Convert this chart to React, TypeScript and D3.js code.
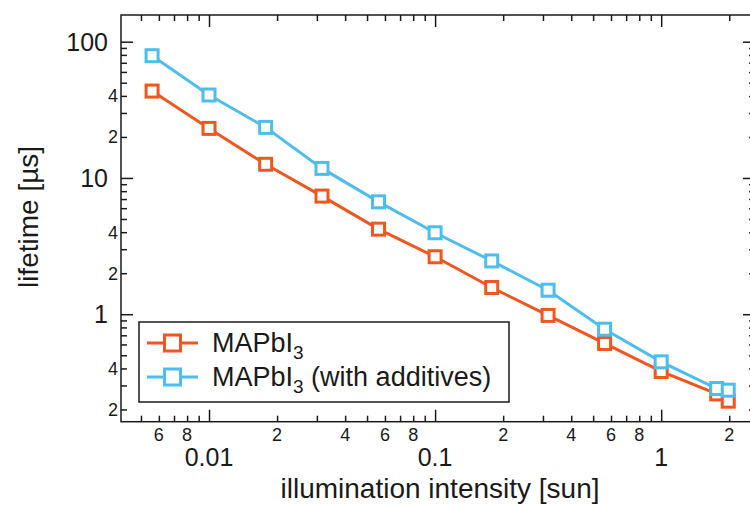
import * as d3 from "d3";
import { useEffect, useRef } from "react";

// illumination intensity [sun], shared by both series
const intensity = [0.0056, 0.01, 0.0178, 0.0316, 0.0562, 0.1, 0.178, 0.316, 0.562, 1, 1.76, 1.98];
// lifetime [µs]
const lifetimePlain = [43.4, 23.1, 12.6, 7.36, 4.21, 2.64, 1.57, 0.98, 0.61, 0.38, 0.26, 0.23];
const lifetimeAdditives = [78.9, 40.6, 23.5, 11.75, 6.68, 3.96, 2.46, 1.5, 0.776, 0.447, 0.285, 0.277];

const seriesSuffixes = ["", " (with additives)"];
const seriesColors = ["#f0561e", "#4dbdee"];

const xMajorTicks = [0.01, 0.1, 1];
const xMajorLabels = ["0.01", "0.1", "1"];
const xMinorTicks = [
  0.005, 0.006, 0.007, 0.008, 0.009,
  0.02, 0.03, 0.04, 0.05, 0.06, 0.07, 0.08, 0.09,
  0.2, 0.3, 0.4, 0.5, 0.6, 0.7, 0.8, 0.9, 2,
];
const xMinorLabelled = [0.006, 0.008, 0.02, 0.04, 0.06, 0.08, 0.2, 0.4, 0.6, 0.8, 2];

const yMajorTicks = [1, 10, 100];
const yMajorLabels = ["1", "10", "100"];
const yMinorTicks = [
  0.2, 0.3, 0.4, 0.5, 0.6, 0.7, 0.8, 0.9,
  2, 3, 4, 5, 6, 7, 8, 9,
  20, 30, 40, 50, 60, 70, 80, 90,
];
const yMinorLabelled = [0.2, 0.4, 2, 4, 20, 40];

const width = 750;
const height = 505;
const plot = { left: 121, top: 15, right: 755, bottom: 421.7 };
const font = "'Liberation Sans', Arial, Helvetica, sans-serif";

const firstDigit = (v: number) => String(Math.round(v / Math.pow(10, Math.floor(Math.log10(v) + 1e-9))));

export default function App() {
  const svgRef = useRef<SVGSVGElement | null>(null);

  useEffect(() => {
    const svg = d3.select(svgRef.current);
    svg.selectAll("*").remove();

    const x = d3.scaleLog().domain([0.00408, 2.6]).range([plot.left, plot.right]);
    const y = d3.scaleLog().domain([0.1626, 157]).range([plot.bottom, plot.top]);

    svg.append("rect").attr("width", width).attr("height", height).attr("fill", "#fff");

    const tickGroup = (transform: string, axis: any) => {
      const g = svg.append("g").attr("transform", transform).call(axis);
      g.select(".domain").remove();
      g.selectAll("text").remove();
      g.selectAll("line").attr("stroke", "#1a1a1a").attr("stroke-width", 1.5);
      return g;
    };

    const sides: [string, any][] = [
      [`translate(0,${plot.bottom})`, d3.axisBottom],
      [`translate(0,${plot.top})`, d3.axisTop],
    ];
    sides.forEach(([t, make]) => {
      tickGroup(t, make(x).tickValues(xMajorTicks).tickSize(-12).tickFormat(() => ""));
      tickGroup(t, make(x).tickValues(xMinorTicks).tickSize(-6).tickFormat(() => ""));
    });
    const ySides: [string, any][] = [
      [`translate(${plot.left},0)`, d3.axisLeft],
      [`translate(${plot.right},0)`, d3.axisRight],
    ];
    ySides.forEach(([t, make]) => {
      tickGroup(t, make(y).tickValues(yMajorTicks).tickSize(-12).tickFormat(() => ""));
      tickGroup(t, make(y).tickValues(yMinorTicks).tickSize(-6).tickFormat(() => ""));
    });

    svg
      .append("rect")
      .attr("x", plot.left)
      .attr("y", plot.top)
      .attr("width", plot.right - plot.left)
      .attr("height", plot.bottom - plot.top)
      .attr("fill", "none")
      .attr("stroke", "#1a1a1a")
      .attr("stroke-width", 1.5);

    // tick labels
    svg
      .append("g")
      .selectAll("text")
      .data(xMajorTicks)
      .join("text")
      .attr("x", (d) => x(d))
      .attr("y", 466)
      .attr("text-anchor", "middle")
      .style("font-family", font)
      .style("font-size", "25px")
      .attr("fill", "#1a1a1a")
      .text((d, i) => xMajorLabels[i]);

    svg
      .append("g")
      .selectAll("text")
      .data(xMinorLabelled)
      .join("text")
      .attr("x", (d) => x(d))
      .attr("y", 441)
      .attr("text-anchor", "middle")
      .style("font-family", font)
      .style("font-size", "18px")
      .attr("fill", "#1a1a1a")
      .text((d) => firstDigit(d));

    svg
      .append("g")
      .selectAll("text")
      .data(yMajorTicks)
      .join("text")
      .attr("x", 108)
      .attr("y", (d) => y(d))
      .attr("dy", "0.36em")
      .attr("text-anchor", "end")
      .style("font-family", font)
      .style("font-size", "25px")
      .attr("fill", "#1a1a1a")
      .text((d, i) => yMajorLabels[i]);

    svg
      .append("g")
      .selectAll("text")
      .data(yMinorLabelled)
      .join("text")
      .attr("x", 118)
      .attr("y", (d) => y(d))
      .attr("dy", "0.36em")
      .attr("text-anchor", "end")
      .style("font-family", font)
      .style("font-size", "18px")
      .attr("fill", "#1a1a1a")
      .text((d) => firstDigit(d));

    // axis titles
    svg
      .append("text")
      .attr("x", 440)
      .attr("y", 498)
      .attr("text-anchor", "middle")
      .style("font-family", font)
      .style("font-size", "28px")
      .attr("fill", "#1a1a1a")
      .text("illumination intensity [sun]");

    svg
      .append("text")
      .attr("transform", "translate(38,217) rotate(-90)")
      .attr("text-anchor", "middle")
      .style("font-family", font)
      .style("font-size", "28px")
      .attr("fill", "#1a1a1a")
      .text("lifetime [µs]");

    // series
    const seriesValues = [lifetimePlain, lifetimeAdditives];
    const line = d3
      .line<number>()
      .x((d, i) => x(intensity[i]))
      .y((d) => y(d));
    const markerSize = 12;

    seriesValues.forEach((values, s) => {
      svg
        .append("path")
        .datum(values)
        .attr("d", line)
        .attr("fill", "none")
        .attr("stroke", seriesColors[s])
        .attr("stroke-width", 3);

      svg
        .append("g")
        .selectAll("rect")
        .data(values)
        .join("rect")
        .attr("x", (d, i) => x(intensity[i]) - markerSize / 2)
        .attr("y", (d) => y(d) - markerSize / 2)
        .attr("width", markerSize)
        .attr("height", markerSize)
        .attr("fill", "#fff")
        .attr("stroke", seriesColors[s])
        .attr("stroke-width", 3);
    });

    // legend
    const legend = svg.append("g");
    legend
      .append("rect")
      .attr("x", 139)
      .attr("y", 322)
      .attr("width", 370)
      .attr("height", 80)
      .attr("fill", "#fff")
      .attr("stroke", "#1a1a1a")
      .attr("stroke-width", 1.5);

    seriesColors.forEach((color, s) => {
      const cy = 343 + s * 34;
      legend
        .append("line")
        .attr("x1", 147)
        .attr("x2", 198)
        .attr("y1", cy)
        .attr("y2", cy)
        .attr("stroke", color)
        .attr("stroke-width", 3);
      legend
        .append("rect")
        .attr("x", 172.5 - 8)
        .attr("y", cy - 8)
        .attr("width", 16)
        .attr("height", 16)
        .attr("fill", "#fff")
        .attr("stroke", color)
        .attr("stroke-width", 3);
      const label = legend
        .append("text")
        .attr("x", 212)
        .attr("y", cy + 9)
        .style("font-family", font)
        .style("font-size", "27px")
        .attr("fill", "#1a1a1a");
      label.append("tspan").text("MAPbI");
      label.append("tspan").attr("dy", 7).style("font-size", "19px").text("3");
      label.append("tspan").attr("dy", -7).text(seriesSuffixes[s]);
    });
  }, []);

  return (
    <svg
      ref={svgRef}
      width={width}
      height={height}
      style={{ position: "absolute", left: 0, top: 0 }}
    />
  );
}
